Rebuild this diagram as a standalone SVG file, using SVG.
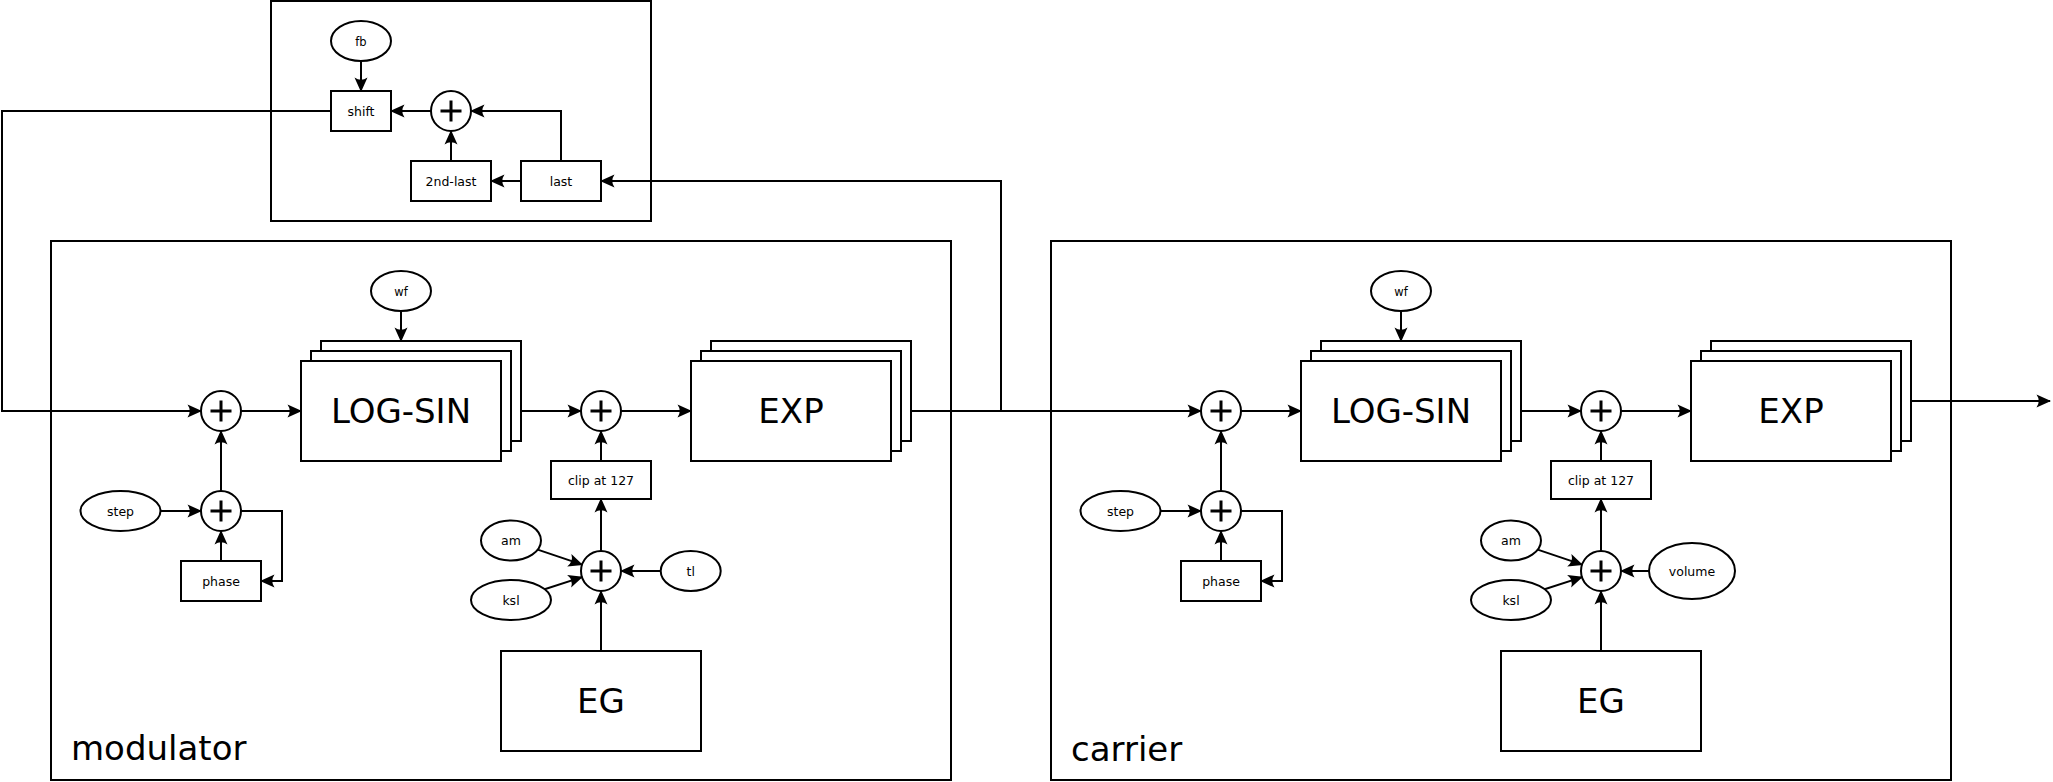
<svg xmlns="http://www.w3.org/2000/svg" width="2053" height="782" viewBox="0 0 2053 782">
<style>
.box{fill:#fff;stroke:#000;stroke-width:2}
.frame{fill:none;stroke:#000;stroke-width:2}
.ell{fill:#fff;stroke:#000;stroke-width:2}
.sum circle{fill:#fff;stroke:#000;stroke-width:2}
.sum path{fill:none;stroke:#000;stroke-width:3}
.wire{fill:none;stroke:#000;stroke-width:2}
.arr{marker-end:url(#ah)}
text{font-family:"DejaVu Sans","Liberation Sans",sans-serif;fill:#000}
.s{font-size:12.5px;text-anchor:middle}
.xs{font-size:11.5px;text-anchor:middle}
.big{font-size:34px;text-anchor:middle}
.lbl{font-size:34px}
</style>
<defs>
<marker id="ah" markerUnits="userSpaceOnUse" viewBox="-16 -8 18 16" refX="0" refY="0" markerWidth="18" markerHeight="16" orient="auto">
<path d="M1,0 L-13.5,-6.5 Q-9,0 -13.5,6.5 Z" fill="#000"/>
</marker>
</defs>

<g id="feedback">
<rect class="frame" x="271" y="1" width="380" height="220"/>
</g>
<g id="fb"><ellipse class="ell" cx="361" cy="41" rx="30" ry="20"/><text class="xs" x="361" y="45.5">fb</text></g>
<g id="shift"><rect class="box" x="331" y="91" width="60" height="40"/><text class="s" x="361" y="115.5">shift</text></g>
<g id="fbsum" class="sum"><circle cx="451" cy="111" r="20"/><path d="M440.5,111 H461.5 M451,100.5 V121.5"/></g>
<g id="secondlast"><rect class="box" x="411" y="161" width="80" height="40"/><text class="s" x="451" y="185.5">2nd-last</text></g>
<g id="last"><rect class="box" x="521" y="161" width="80" height="40"/><text class="s" x="561" y="185.5">last</text></g>

<g id="modulator">
<rect class="frame" x="51" y="241" width="900" height="539"/>
<text class="lbl" x="71" y="760">modulator</text>
</g>
<g id="m_sum1" class="sum"><circle cx="221" cy="411" r="20"/><path d="M210.5,411 H231.5 M221,400.5 V421.5"/></g>
<g id="m_sum2" class="sum"><circle cx="221" cy="511" r="20"/><path d="M210.5,511 H231.5 M221,500.5 V521.5"/></g>
<g id="m_step"><ellipse class="ell" cx="120.5" cy="511" rx="40" ry="20"/><text class="s" x="120.5" y="515.5">step</text></g>
<g id="m_phase"><rect class="box" x="181" y="561" width="80" height="40"/><text class="s" x="221" y="585.5">phase</text></g>
<g id="m_wf"><ellipse class="ell" cx="401" cy="291" rx="30" ry="20"/><text class="xs" x="401" y="295.5">wf</text></g>
<g id="m_logsin">
<rect class="box" x="321" y="341" width="200" height="100"/>
<rect class="box" x="311" y="351" width="200" height="100"/>
<rect class="box" x="301" y="361" width="200" height="100"/>
<text class="big" x="401" y="423.4">LOG-SIN</text>
</g>
<g id="m_sum3" class="sum"><circle cx="601" cy="411" r="20"/><path d="M590.5,411 H611.5 M601,400.5 V421.5"/></g>
<g id="m_exp">
<rect class="box" x="711" y="341" width="200" height="100"/>
<rect class="box" x="701" y="351" width="200" height="100"/>
<rect class="box" x="691" y="361" width="200" height="100"/>
<text class="big" x="791" y="423.4">EXP</text>
</g>
<g id="m_clip"><rect class="box" x="551" y="461" width="100" height="38"/><text class="s" x="601" y="484.5">clip at 127</text></g>
<g id="m_sum4" class="sum"><circle cx="601" cy="571" r="20"/><path d="M590.5,571 H611.5 M601,560.5 V581.5"/></g>
<g id="m_am"><ellipse class="ell" cx="511" cy="540.5" rx="30" ry="20"/><text class="s" x="511" y="545">am</text></g>
<g id="m_ksl"><ellipse class="ell" cx="511" cy="600" rx="40" ry="20"/><text class="s" x="511" y="604.5">ksl</text></g>
<g id="m_tl"><ellipse class="ell" cx="690.7" cy="571" rx="30" ry="20"/><text class="s" x="690.7" y="575.5">tl</text></g>
<g id="m_eg"><rect class="box" x="501" y="651" width="200" height="100"/><text class="big" x="601" y="713.4">EG</text></g>

<g id="carrier">
<rect class="frame" x="1051" y="241" width="900" height="539"/>
<text class="lbl" x="1071" y="761">carrier</text>
</g>
<g id="c_sum1" class="sum"><circle cx="1221" cy="411" r="20"/><path d="M1210.5,411 H1231.5 M1221,400.5 V421.5"/></g>
<g id="c_sum2" class="sum"><circle cx="1221" cy="511" r="20"/><path d="M1210.5,511 H1231.5 M1221,500.5 V521.5"/></g>
<g id="c_step"><ellipse class="ell" cx="1120.5" cy="511" rx="40" ry="20"/><text class="s" x="1120.5" y="515.5">step</text></g>
<g id="c_phase"><rect class="box" x="1181" y="561" width="80" height="40"/><text class="s" x="1221" y="585.5">phase</text></g>
<g id="c_wf"><ellipse class="ell" cx="1401" cy="291" rx="30" ry="20"/><text class="xs" x="1401" y="295.5">wf</text></g>
<g id="c_logsin">
<rect class="box" x="1321" y="341" width="200" height="100"/>
<rect class="box" x="1311" y="351" width="200" height="100"/>
<rect class="box" x="1301" y="361" width="200" height="100"/>
<text class="big" x="1401" y="423.4">LOG-SIN</text>
</g>
<g id="c_sum3" class="sum"><circle cx="1601" cy="411" r="20"/><path d="M1590.5,411 H1611.5 M1601,400.5 V421.5"/></g>
<g id="c_exp">
<rect class="box" x="1711" y="341" width="200" height="100"/>
<rect class="box" x="1701" y="351" width="200" height="100"/>
<rect class="box" x="1691" y="361" width="200" height="100"/>
<text class="big" x="1791" y="423.4">EXP</text>
</g>
<g id="c_clip"><rect class="box" x="1551" y="461" width="100" height="38"/><text class="s" x="1601" y="484.5">clip at 127</text></g>
<g id="c_sum4" class="sum"><circle cx="1601" cy="571" r="20"/><path d="M1590.5,571 H1611.5 M1601,560.5 V581.5"/></g>
<g id="c_am"><ellipse class="ell" cx="1511" cy="540.5" rx="30" ry="20"/><text class="s" x="1511" y="545">am</text></g>
<g id="c_ksl"><ellipse class="ell" cx="1511" cy="600" rx="40" ry="20"/><text class="s" x="1511" y="604.5">ksl</text></g>
<g id="c_volume"><ellipse class="ell" cx="1692" cy="571" rx="43" ry="28"/><text class="s" x="1692" y="575.5">volume</text></g>
<g id="c_eg"><rect class="box" x="1501" y="651" width="200" height="100"/><text class="big" x="1601" y="713.4">EG</text></g>

<g id="connectors">
<path class="wire arr" d="M331,111 H2 V411 H201"/>
<path class="wire arr" d="M361,61 V91"/>
<path class="wire arr" d="M431,111 H391"/>
<path class="wire arr" d="M561,161 V111 H471"/>
<path class="wire arr" d="M451,161 V131"/>
<path class="wire arr" d="M521,181 H491"/>
<path class="wire arr" d="M241,411 H301"/>
<path class="wire arr" d="M221,491 V431"/>
<path class="wire arr" d="M160.5,511 H201"/>
<path class="wire arr" d="M221,561 V531"/>
<path class="wire arr" d="M241,511 H282 V581 H261"/>
<path class="wire arr" d="M401,311 V341"/>
<path class="wire arr" d="M521,411 H581"/>
<path class="wire arr" d="M621,411 H691"/>
<path class="wire arr" d="M601,461 V431"/>
<path class="wire arr" d="M601,551 V499"/>
<path class="wire arr" d="M601,651 V591"/>
<path class="wire arr" d="M660.7,571 H621"/>
<path class="wire arr" d="M537.7,549.6 L582.1,564.6"/>
<path class="wire arr" d="M544.6,589.2 L582,577.1"/>
<path class="wire arr" d="M911,411 H1201"/>
<path class="wire arr" d="M1001,411 V181 H601"/>
<path class="wire arr" d="M1241,411 H1301"/>
<path class="wire arr" d="M1221,491 V431"/>
<path class="wire arr" d="M1160.5,511 H1201"/>
<path class="wire arr" d="M1221,561 V531"/>
<path class="wire arr" d="M1241,511 H1282 V581 H1261"/>
<path class="wire arr" d="M1401,311 V341"/>
<path class="wire arr" d="M1521,411 H1581"/>
<path class="wire arr" d="M1621,411 H1691"/>
<path class="wire arr" d="M1601,461 V431"/>
<path class="wire arr" d="M1601,551 V499"/>
<path class="wire arr" d="M1601,651 V591"/>
<path class="wire arr" d="M1649,571 H1621"/>
<path class="wire arr" d="M1537.7,549.6 L1582.1,564.6"/>
<path class="wire arr" d="M1544.6,589.2 L1582,577.1"/>
<path class="wire arr" d="M1911,401 H2050"/>
</g>
</svg>
